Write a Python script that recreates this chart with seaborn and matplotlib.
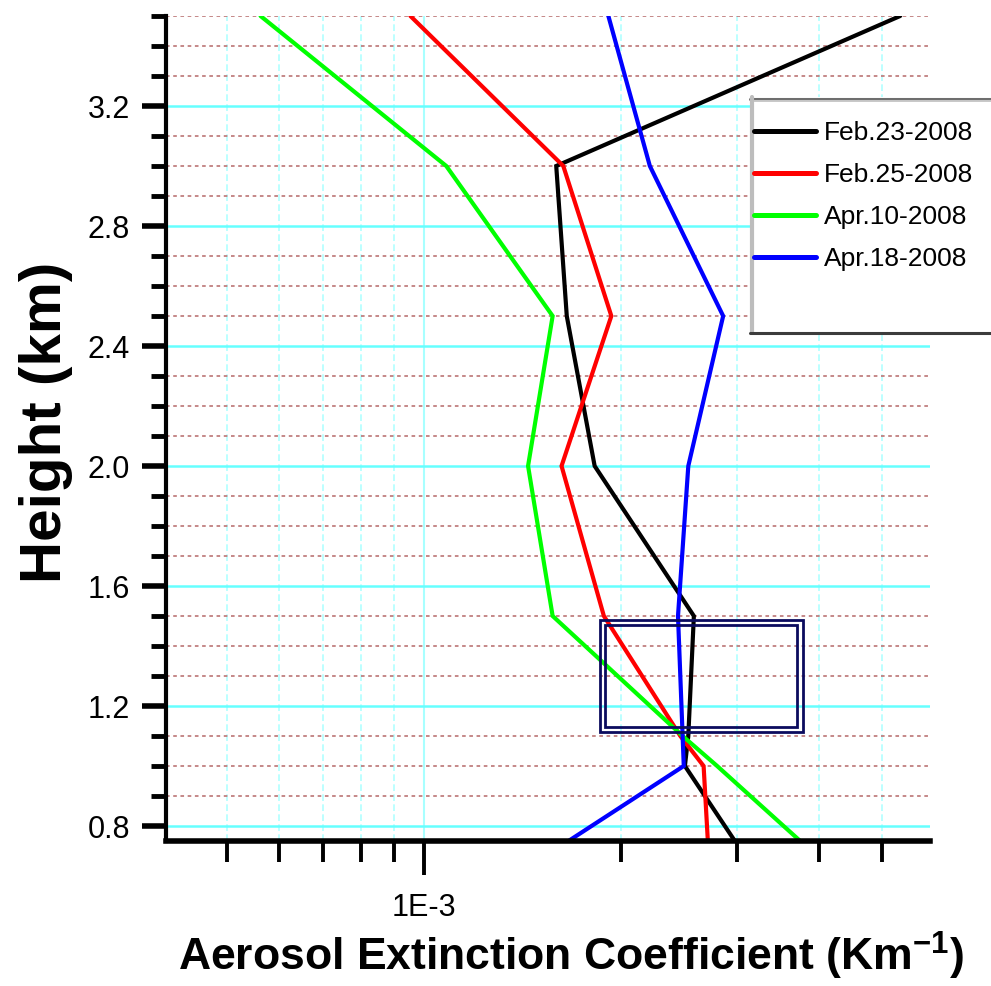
import numpy as np
import pandas as pd
import matplotlib
matplotlib.use("Agg")
import matplotlib.pyplot as plt
from matplotlib.patches import Rectangle
from matplotlib.lines import Line2D
from matplotlib.ticker import LogLocator, MultipleLocator, NullFormatter
import seaborn as sns

# Lidar aerosol extinction profiles (km^-1) at each retrieval height (km)
heights = [0.75, 1.0, 1.1, 1.5, 2.0, 2.5, 3.0, 3.5]
feb23 = [2.98e-3, 2.50e-3, 2.53e-3, 2.58e-3, 1.82e-3, 1.65e-3, 1.59e-3, 5.33e-3]
feb25 = [2.71e-3, 2.67e-3, 2.46e-3, 1.88e-3, 1.62e-3, 1.93e-3, 1.63e-3, 0.952e-3]
apr10 = [3.75e-3, 2.80e-3, 2.48e-3, 1.57e-3, 1.44e-3, 1.57e-3, 1.08e-3, 0.562e-3]
apr18 = [1.66e-3, 2.49e-3, 2.48e-3, 2.44e-3, 2.53e-3, 2.86e-3, 2.21e-3, 1.91e-3]

series_labels = ["Feb.23-2008", "Feb.25-2008", "Apr.10-2008", "Apr.18-2008"]
series_colors = ["#000000", "#ff0000", "#00ff00", "#0000ff"]

y_ticks = [0.8, 1.2, 1.6, 2.0, 2.4, 2.8, 3.2]
y_tick_labels = ["0.8", "1.2", "1.6", "2.0", "2.4", "2.8", "3.2"]
x_ticks = [1e-3]
x_tick_labels = ["1E-3"]

df = pd.DataFrame({
    "height": heights * len(series_labels),
    "ext": feb23 + feb25 + apr10 + apr18,
    "date": np.repeat(series_labels, len(heights)),
})

sns.set_theme(style="white")
sans = "Liberation Sans"
plt.rcParams["font.family"] = [sans, "DejaVu Sans"]
plt.rcParams["mathtext.default"] = "regular"
for key in ("text.color", "axes.labelcolor", "xtick.color", "ytick.color",
            "xtick.labelcolor", "ytick.labelcolor"):
    plt.rcParams[key] = "black"

W, H = 991, 986
fig = plt.figure(figsize=(W / 100, H / 100), dpi=100)
ax = fig.add_axes([166 / W, 1 - 841 / H, (930 - 166) / W, (841 - 16) / H])
ax.set_xscale("log")

sns.lineplot(
    data=df, x="ext", y="height", hue="date",
    palette=dict(zip(series_labels, series_colors)),
    orient="y", sort=False, estimator=None, lw=3, ax=ax,
    solid_joinstyle="miter",
)

ax.set_xlim(4.03e-4, 5.92e-3)
ax.set_ylim(0.75, 3.5)
ax.set_xlabel("")
ax.set_ylabel("")

# ticks
ax.set_xticks(x_ticks, labels=x_tick_labels)
ax.xaxis.set_minor_locator(LogLocator(base=10, subs=np.arange(2, 10)))
ax.xaxis.set_minor_formatter(NullFormatter())
ax.set_yticks(y_ticks, labels=y_tick_labels)
ax.yaxis.set_minor_locator(MultipleLocator(0.1))

ax.tick_params(axis="y", which="major", direction="out", length=17, width=4,
               pad=9, labelsize=22, color="black", left=True)
ax.tick_params(axis="y", which="minor", direction="out", length=11, width=3.5,
               color="black", left=True)
ax.tick_params(axis="x", which="major", direction="out", length=24.5, width=2.8,
               pad=13, labelsize=22, color="black", bottom=True)
ax.tick_params(axis="x", which="minor", direction="out", length=15, width=2.8,
               color="black", bottom=True)

# grid
ax.set_axisbelow(True)
ax.grid(which="major", axis="y", color="#66ffff", lw=1.8, ls="-")
ax.grid(which="minor", axis="y", color="#c07f7f", lw=1.3, ls=(0, (2, 2)))
ax.grid(which="major", axis="x", color="#a8ffff", lw=1.5, ls="-")
ax.grid(which="minor", axis="x", color="#b0ffff", lw=1.2, ls=(0, (4, 2)))

for side in ("top", "right"):
    ax.spines[side].set_visible(False)
ax.spines["left"].set_color("black")
ax.spines["left"].set_linewidth(3)
ax.spines["bottom"].set_color("black")
ax.spines["bottom"].set_linewidth(4)

# highlighted layer: double navy frame
for (x0, x1, y0, y1) in [(1.857e-3, 3.79e-3, 1.113, 1.487),
                         (1.889e-3, 3.71e-3, 1.13, 1.47)]:
    ax.add_patch(Rectangle((x0, y0), x1 - x0, y1 - y0, fill=False,
                           edgecolor="#0b0b5e", lw=2, zorder=4))

# axis titles
fig.text(571 / W, 1 - 956 / H, "Aerosol Extinction Coefficient (Km$^{-1}$)",
         ha="center", va="center", fontsize=32, fontweight="bold", family=sans)
fig.text(46 / W, 1 - 422 / H, "Height (km)", rotation=90, ha="center",
         va="center", fontsize=42, fontweight="bold", family=sans)

# legend with bevelled box
handles, labels = ax.get_legend_handles_labels()
ax.get_legend().remove()
fx = lambda p: p / W
fy = lambda p: 1 - p / H
fig.add_artist(Rectangle((fx(750), fy(333)), 0.3, (333 - 97) / H,
                         transform=fig.transFigure, facecolor="white",
                         edgecolor="none", zorder=3))
fig.add_artist(Line2D([fx(750), 1.0], [fy(98.5)] * 2, transform=fig.transFigure,
                      color="#6e6e6e", lw=2.2, zorder=4))
fig.add_artist(Line2D([fx(752), 1.0], [fy(101)] * 2, transform=fig.transFigure,
                      color="#c8c8c8", lw=1.4, zorder=4))
fig.add_artist(Line2D([fx(752)] * 2, [fy(97), fy(333)], transform=fig.transFigure,
                      color="#bdbdbd", lw=3, zorder=4))
fig.add_artist(Line2D([fx(750), 1.0], [fy(333)] * 2, transform=fig.transFigure,
                      color="#3c3c3c", lw=2.2, zorder=4))
leg = fig.legend(handles, labels, loc="upper left",
                 bbox_to_anchor=(fx(754), fy(121)), frameon=False,
                 prop={"family": sans, "size": 19}, handlelength=2.35,
                 handletextpad=0.3, labelspacing=0.68, borderpad=0,
                 borderaxespad=0)
for line in leg.get_lines():
    line.set_linewidth(3.6)

fig.savefig("out.png", dpi=100)
